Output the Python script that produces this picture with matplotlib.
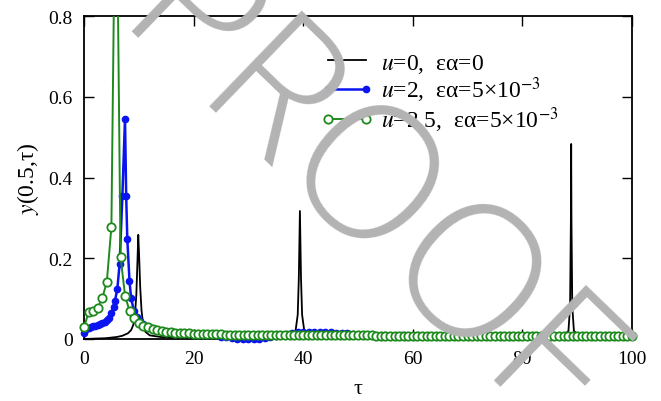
import numpy as np
import matplotlib
matplotlib.use('Agg')
import matplotlib.pyplot as plt
from matplotlib.patches import Rectangle

plt.rcParams['font.family'] = ['Liberation Serif', 'DejaVu Serif']
plt.rcParams['mathtext.fontset'] = 'stix'

# u=0, ea=0 (black line)
tau_black = [0, 2, 4, 6, 7, 8, 8.6, 9.0, 9.3, 9.55, 9.75, 9.9, 10.05, 10.25, 10.5, 10.8,
             11.2, 12, 14, 18, 25, 32, 36, 37.8, 38.6, 39.0, 39.2, 39.4, 39.6, 39.8,
             40.2, 41, 43, 50, 60, 70, 80, 85, 87.5, 88.4, 88.7, 88.85, 88.9, 88.95,
             89.1, 89.4, 90.3, 93, 100]
y_black = [0.000, 0.001, 0.002, 0.005, 0.008, 0.014, 0.022, 0.035, 0.060, 0.110, 0.190,
           0.258, 0.210, 0.130, 0.070, 0.035, 0.018, 0.009, 0.005, 0.003, 0.002, 0.002,
           0.004, 0.009, 0.020, 0.060, 0.150, 0.317, 0.150, 0.060, 0.020, 0.009, 0.004,
           0.002, 0.001, 0.001, 0.002, 0.003, 0.008, 0.020, 0.080, 0.300, 0.483, 0.300,
           0.080, 0.020, 0.008, 0.003, 0.002]

# u=2, ea=5e-3 (blue, filled dots)
tau_blue = [0.0, 0.42, 0.83, 1.25, 1.67, 2.08, 2.5, 2.92, 3.33, 3.75, 4.17, 4.58, 5.0,
            5.4, 5.66, 6.08, 6.5, 7.0, 7.48, 7.7, 7.9, 8.3, 8.6, 9.1, 9.7, 10.2, 10.8,
            11.5, 12.5, 13.5, 15, 17, 19, 21, 23, 25, 26, 27, 28, 29, 30, 31, 32, 33,
            34, 35, 36, 37, 38, 39, 40, 41, 42, 43, 44, 45, 46, 47, 48, 49, 50, 52,
            55, 58, 61, 64, 67, 70, 73, 76, 79, 82, 85, 88, 91, 94, 97, 100]
y_blue = [0.016, 0.024, 0.027, 0.029, 0.031, 0.033, 0.035, 0.037, 0.040, 0.043, 0.047,
          0.053, 0.065, 0.080, 0.095, 0.124, 0.186, 0.353, 0.545, 0.353, 0.248, 0.144,
          0.101, 0.070, 0.054, 0.045, 0.038, 0.032, 0.026, 0.022, 0.018, 0.015, 0.013,
          0.011, 0.009, 0.006, 0.004, 0.003, 0.001, 0.000, 0.000, 0.000, 0.001, 0.003,
          0.005, 0.008, 0.010, 0.013, 0.016, 0.018, 0.018, 0.018, 0.018, 0.017, 0.017,
          0.017, 0.016, 0.016, 0.015, 0.013, 0.011, 0.009, 0.009, 0.009, 0.009, 0.008,
          0.008, 0.008, 0.008, 0.008, 0.008, 0.007, 0.007, 0.007, 0.007, 0.007, 0.007,
          0.007]

# u=2.5, ea=5e-3 (green, open circles), sampled every 1/1.2 in tau
tau_green = np.linspace(0, 100, 121)
y_green = [0.029, 0.066, 0.070, 0.078, 0.101, 0.142, 0.278, 1.300, 0.204, 0.106, 0.069, 0.051,
           0.040, 0.033, 0.029, 0.025, 0.022, 0.020, 0.018, 0.017, 0.016, 0.015, 0.014, 0.014,
           0.013, 0.013, 0.013, 0.012, 0.012, 0.012, 0.012, 0.011, 0.011, 0.011, 0.011, 0.011,
           0.011, 0.010, 0.010, 0.010, 0.010, 0.010, 0.010, 0.010, 0.010, 0.010, 0.009, 0.009,
           0.009, 0.009, 0.009, 0.009, 0.009, 0.009, 0.009, 0.009, 0.009, 0.009, 0.009, 0.009,
           0.009, 0.009, 0.009, 0.009, 0.008, 0.008, 0.008, 0.008, 0.008, 0.008, 0.008, 0.008,
           0.008, 0.008, 0.008, 0.008, 0.008, 0.008, 0.008, 0.008, 0.008, 0.008, 0.008, 0.008,
           0.008, 0.008, 0.008, 0.008, 0.007, 0.007, 0.007, 0.007, 0.007, 0.007, 0.007, 0.007,
           0.007, 0.007, 0.007, 0.007, 0.007, 0.007, 0.007, 0.007, 0.007, 0.007, 0.007, 0.007,
           0.007, 0.007, 0.007, 0.007, 0.007, 0.007, 0.007, 0.007, 0.007, 0.007, 0.007, 0.007,
           0.007]

labels = [r'$u$=0,  εα=0', r'$u$=2,  εα=5×10$^{-3}$', r'$u$=2.5,  εα=5×10$^{-3}$']

W, H = 661, 402
fig = plt.figure(figsize=(W / 100, H / 100), dpi=100)
ax = fig.add_axes([84 / W, 1 - 340 / H, 548 / W, 323 / H])

# clip a bit outside the frame (bottom/left/right) so edge markers show, but not above
clip = Rectangle((-0.02, -0.03), 1.04, 1.03, transform=ax.transAxes, visible=False)
ax.add_patch(clip)

l1, = ax.plot(tau_black, y_black, color='black', lw=1.3, label=labels[0], zorder=3)
l2, = ax.plot(tau_blue, y_blue, color='#0a14f0', lw=1.8, marker='o', ms=4.5,
              mec='#0a14f0', mfc='#0a14f0', label=labels[1], zorder=4)
l3, = ax.plot(tau_green, y_green, color='#1e8a1e', lw=1.4, marker='o', ms=6,
              mec='#1e8a1e', mfc='white', mew=1.3, label=labels[2], zorder=5)
for ln in (l1, l2, l3):
    ln.set_clip_path(clip)

ax.set_xlim(0, 100)
ax.set_ylim(0, 0.8)
ax.set_xticks([0, 20, 40, 60, 80, 100])
ax.set_yticks([0, 0.2, 0.4, 0.6, 0.8])
ax.set_yticklabels(['0', '0.2', '0.4', '0.6', '0.8'])
ax.tick_params(direction='in', top=True, right=True, length=7, width=1,
               labelsize=14, pad=8)
for sp in ax.spines.values():
    sp.set_linewidth(1.3)

ax.set_xlabel('τ', fontsize=16)
ax.set_ylabel(r'$y$(0.5,τ)', fontsize=17)
ax.xaxis.set_label_coords(0.5, -0.125)
ax.yaxis.set_label_coords(-0.078, 0.5)

ax.legend(loc='upper left', bbox_to_anchor=(0.432, 0.89), frameon=False,
          fontsize=17, handlelength=2.2, handletextpad=0.35, labelspacing=0.0,
          borderpad=0, borderaxespad=0, numpoints=2)

# watermark
fig.text(360 / W, 1 - 203 / H, 'PROOF', fontsize=134, family='Open Sans',
         fontweight='light', color='#b3b3b3', rotation=-44, ha='center',
         va='center', zorder=20)

fig.savefig('out.png', dpi=100)
